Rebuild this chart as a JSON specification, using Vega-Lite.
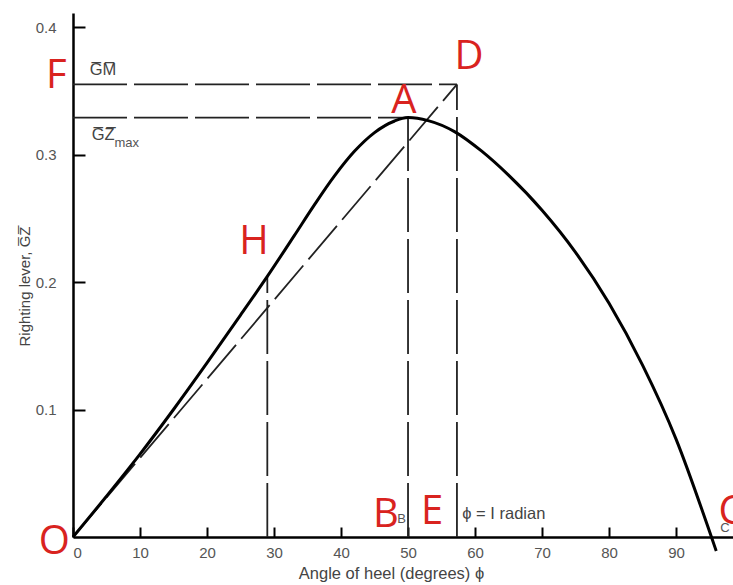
{
  "$schema": "https://vega.github.io/schema/vega-lite/v6.json",
  "width": 660,
  "height": 524,
  "autosize": "none",
  "padding": {"left": 73, "top": 13, "right": 0, "bottom": 48},
  "background": "white",
  "config": {
    "view": {"stroke": null},
    "font": "Liberation Sans",
    "axis": {
      "domainColor": "black",
      "domainWidth": 2.5,
      "tickColor": "black",
      "tickWidth": 2,
      "grid": false,
      "labelColor": "#555",
      "labelFont": "Liberation Sans",
      "labelFontSize": 15,
      "titleColor": "#444",
      "titleFont": "Liberation Sans",
      "titleFontWeight": "normal"
    }
  },
  "datasets": {
    "curve": [
      {"phi": 0, "gz": 0},
      {"phi": 5, "gz": 0.032},
      {"phi": 10, "gz": 0.065},
      {"phi": 15, "gz": 0.100},
      {"phi": 20, "gz": 0.1365},
      {"phi": 25, "gz": 0.174},
      {"phi": 29, "gz": 0.2044},
      {"phi": 33, "gz": 0.2362},
      {"phi": 36, "gz": 0.2603},
      {"phi": 39, "gz": 0.2830},
      {"phi": 42, "gz": 0.3025},
      {"phi": 45, "gz": 0.3172},
      {"phi": 48, "gz": 0.3263},
      {"phi": 50, "gz": 0.329},
      {"phi": 53, "gz": 0.3266},
      {"phi": 57, "gz": 0.3178},
      {"phi": 61, "gz": 0.3026},
      {"phi": 65, "gz": 0.2838},
      {"phi": 70, "gz": 0.2563},
      {"phi": 75, "gz": 0.2233},
      {"phi": 80, "gz": 0.1833},
      {"phi": 85, "gz": 0.1348},
      {"phi": 90, "gz": 0.0768},
      {"phi": 95, "gz": 0.0043},
      {"phi": 96, "gz": -0.011}
    ],
    "guides": [
      {"name": "GM", "x1": 0, "y1": 0.355, "x2": 57.3, "y2": 0.355},
      {"name": "GZmax", "x1": 0, "y1": 0.329, "x2": 50, "y2": 0.329},
      {"name": "H", "x1": 29, "y1": 0, "x2": 29, "y2": 0.2044},
      {"name": "AB", "x1": 50, "y1": 0, "x2": 50, "y2": 0.329},
      {"name": "DE", "x1": 57.3, "y1": 0, "x2": 57.3, "y2": 0.355}
    ],
    "tangent": [
      {"x1": 0, "y1": 0, "x2": 57.3, "y2": 0.355}
    ],
    "letters": [
      {"phi": -2.5, "gz": 0.3616, "label": "F"},
      {"phi": 59.1, "gz": 0.3765, "label": "D"},
      {"phi": 49.4, "gz": 0.342, "label": "A"},
      {"phi": 27.0, "gz": 0.231, "label": "H"},
      {"phi": -2.8, "gz": -0.004, "label": "O"},
      {"phi": 46.7, "gz": 0.017, "label": "B"},
      {"phi": 53.6, "gz": 0.0196, "label": "E"},
      {"phi": 98.2, "gz": 0.0196, "label": "C"}
    ],
    "notes": [
      {"phi": 2.5, "gz": 0.362, "label": "G̅M̅"},
      {"phi": 2.8, "gz": 0.311, "label": "G̅Z̅"},
      {"phi": 58.1, "gz": 0.0145, "label": "ϕ = I radian"}
    ],
    "small": [
      {"phi": 6.2, "gz": 0.306, "label": "max"},
      {"phi": 48.4, "gz": 0.011, "label": "B"},
      {"phi": 96.6, "gz": 0.004, "label": "C"}
    ]
  },
  "layer": [
    {
      "data": {"name": "guides"},
      "mark": {"type": "rule", "color": "#222", "strokeWidth": 1.8, "strokeDash": [54, 7]},
      "encoding": {
        "x": {"field": "x1", "type": "quantitative", "scale": {"domain": [0, 98.5], "nice": false},
          "axis": {"values": [0, 10, 20, 30, 40, 50, 60, 70, 80, 90], "tickSize": -10, "labelPadding": 18,
            "title": "Angle of heel (degrees) ϕ", "titleFontSize": 16.5, "titlePadding": 5, "titleX": 318}},
        "x2": {"field": "x2"},
        "y": {"field": "y1", "type": "quantitative", "scale": {"domain": [0, 0.411], "nice": false, "zero": false},
          "axis": {"values": [0.1, 0.2, 0.3, 0.4], "format": ".1f", "tickSize": -12, "labelPadding": 29,
            "title": "Righting lever, G̅Z̅", "titleFontSize": 15, "titlePadding": 3, "titleY": 273}},
        "y2": {"field": "y2"}
      }
    },
    {
      "data": {"name": "tangent"},
      "mark": {"type": "rule", "color": "#222", "strokeWidth": 1.8, "strokeDash": [44, 8]},
      "encoding": {
        "x": {"field": "x1", "type": "quantitative"},
        "x2": {"field": "x2"},
        "y": {"field": "y1", "type": "quantitative"},
        "y2": {"field": "y2"}
      }
    },
    {
      "data": {"name": "curve"},
      "mark": {"type": "line", "color": "black", "strokeWidth": 3, "interpolate": "monotone"},
      "encoding": {
        "x": {"field": "phi", "type": "quantitative"},
        "y": {"field": "gz", "type": "quantitative"}
      }
    },
    {
      "data": {"name": "small"},
      "mark": {"type": "text", "color": "#555", "fontSize": 13, "align": "left", "baseline": "alphabetic", "font": "Liberation Sans"},
      "encoding": {
        "x": {"field": "phi", "type": "quantitative"},
        "y": {"field": "gz", "type": "quantitative"},
        "text": {"field": "label"}
      }
    },
    {
      "data": {"name": "notes"},
      "mark": {"type": "text", "color": "#444", "fontSize": 16.5, "align": "left", "baseline": "alphabetic", "font": "Liberation Sans"},
      "encoding": {
        "x": {"field": "phi", "type": "quantitative"},
        "y": {"field": "gz", "type": "quantitative"},
        "text": {"field": "label"}
      }
    },
    {
      "data": {"name": "letters"},
      "mark": {"type": "text", "color": "#d9231f", "fontSize": 40, "align": "center", "baseline": "middle", "font": "Open Sans"},
      "encoding": {
        "x": {"field": "phi", "type": "quantitative"},
        "y": {"field": "gz", "type": "quantitative"},
        "text": {"field": "label"}
      }
    }
  ]
}
